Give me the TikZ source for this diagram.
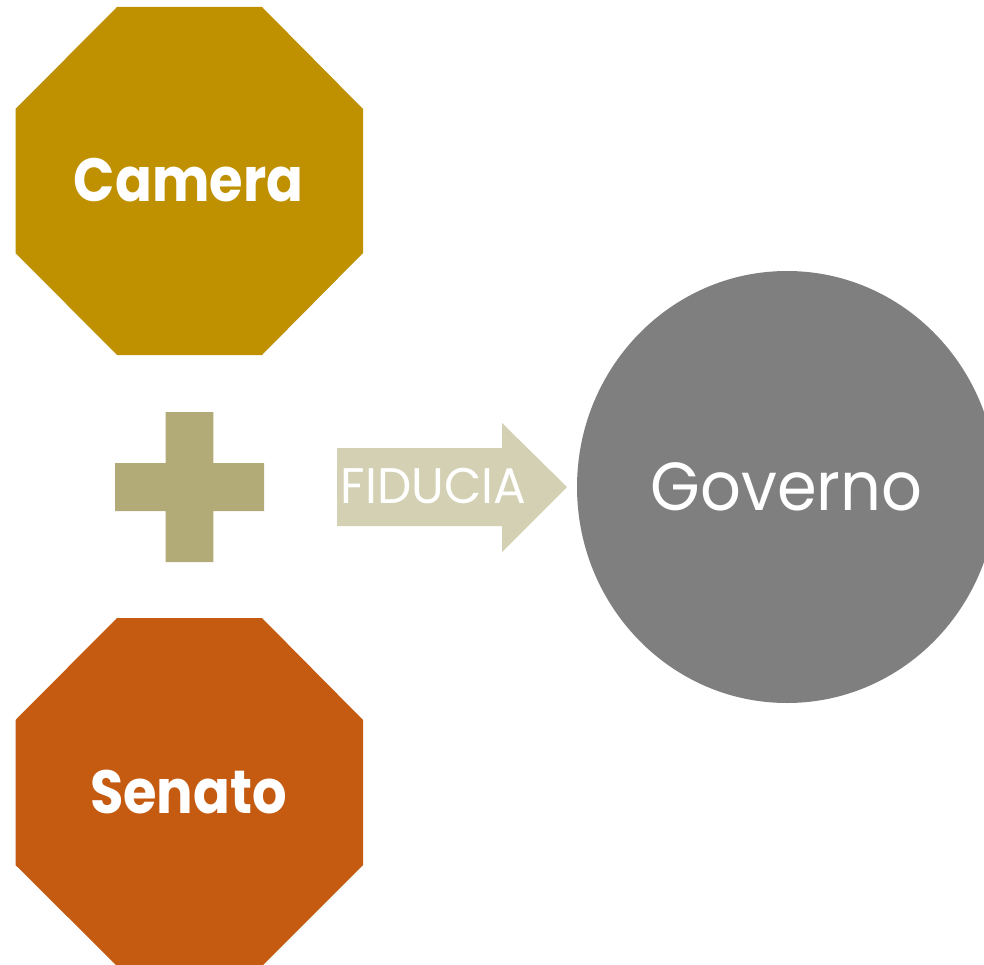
\documentclass[tikz,border=0pt]{standalone}
\usepackage{fontspec}
\setmainfont{Poppins}
\definecolor{cameraC}{HTML}{BF9000}
\definecolor{senatoC}{HTML}{C55A11}
\definecolor{plusC}{HTML}{B2AA77}
\definecolor{arrowC}{HTML}{D3D0B3}
\definecolor{govC}{HTML}{7F7F7F}
\tikzset{
  lbl/.style={text=white, inner sep=0pt, anchor=base},
  bold lbl/.style={lbl, font=\fontsize{61}{61}\selectfont\bfseries},
}
\begin{document}
\begin{tikzpicture}[x=1pt,y=-1pt]
\useasboundingbox (0,0) rectangle (984,965);
\clip (0,0) rectangle (984,965);
% Camera octagon
\fill[cameraC] (117,7) -- (262,7) -- (363,109) -- (363,253) -- (262,355) -- (117,355) -- (15.5,253) -- (15.5,109) -- cycle;
% Senato octagon
\fill[senatoC] (117,618) -- (262,618) -- (363,720) -- (363,865) -- (262,966) -- (117,966) -- (15.5,865) -- (15.5,720) -- cycle;
% plus sign
\fill[plusC] (165.7,412) -- (213.3,412) -- (213.3,463) -- (264,463) -- (264,511) -- (213.3,511) -- (213.3,562) -- (165.7,562) -- (165.7,511) -- (115,511) -- (115,463) -- (165.7,463) -- cycle;
% arrow
\fill[arrowC] (337,448) -- (502,448) -- (502,423) -- (567,487) -- (502,552) -- (502,526) -- (337,526) -- cycle;
% Governo ellipse
\fill[govC] (787,487) ellipse [x radius=210pt, y radius=216pt];
% labels
\node[bold lbl] (camera) at (188.5,202) {\scalebox{0.89}[1]{Camera}};
\node[bold lbl] (senato) at (188.5,813) {\scalebox{0.89}[1]{Senato}};
\node[lbl, font=\fontsize{50}{50}\selectfont] (fiducia) at (433.5,503) {\scalebox{0.97}[1]{FIDUCIA}};
\node[lbl, font=\fontsize{68}{68}\selectfont] (governo) at (786.5,510) {\scalebox{0.94}[1]{Governo}};
\end{tikzpicture}
\end{document}
